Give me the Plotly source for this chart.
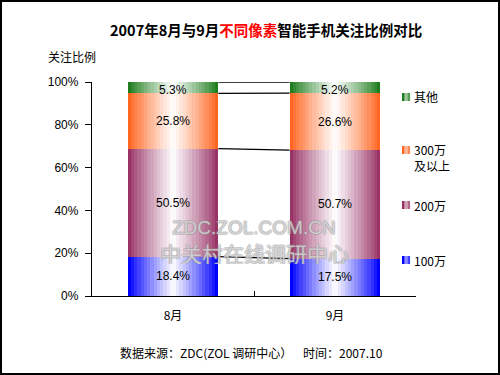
import plotly.graph_objects as go

categories = ["8月", "9月"]
series_names = ["100万", "200万", "300万<br>及以上", "其他"]
v100 = [18.4, 17.5]
v200 = [50.5, 50.7]
v300 = [25.8, 26.6]
v_other = [5.3, 5.2]
y_ticks = [0, 20, 40, 60, 80, 100]
y_ticklabels = ["0%", "20%", "40%", "60%", "80%", "100%"]

series = [v100, v200, v300, v_other]
colors = [(0, 0, 255), (153, 51, 102), (255, 102, 34), (30, 125, 30)]

FONT = "Liberation Sans, Arial, Noto Sans CJK SC"
CJK = "Noto Sans CJK SC, Liberation Sans"

W = 0.56
N = 14
xs = list(range(len(categories)))

def mix(c, t):
    return "rgb(%d,%d,%d)" % tuple(round(ci + (255 - ci) * t) for ci in c)

fig = go.Figure()

bases = [[0.0] * len(categories)]
for s in series:
    bases.append([b + v for b, v in zip(bases[-1], s)])

for i, s in enumerate(series):
    for k in range(N):
        t = (k / (N - 1)) ** 0.9 * 0.97
        fig.add_trace(go.Bar(
            x=xs, y=s, base=bases[i], width=W * (1 - k / N),
            marker=dict(color=mix(colors[i], t), line=dict(width=0)),
            showlegend=False, hoverinfo="skip"))

# connector lines
for lvl in bases[1:]:
    fig.add_trace(go.Scatter(x=[xs[0] + W / 2, xs[1] - W / 2], y=[lvl[0], lvl[1]],
                             mode="lines", line=dict(color="black", width=1.3),
                             showlegend=False, hoverinfo="skip"))

# value labels
for i, s in enumerate(series):
    for j, v in enumerate(s):
        ymid = bases[i][j] + v / 2
        fig.add_annotation(x=xs[j], y=ymid, text="%.1f%%" % v, showarrow=False,
                           xanchor="center", yanchor="middle",
                           font=dict(family=FONT, size=12, color="black"),
                           yshift=-2 if i == 3 else 0)

def px(x):
    return (x - 92) / 324

def py(y):
    return (296 - y) / 214

def note(x, y, text, size, family=CJK, xanchor="center", **kw):
    fig.add_annotation(x=px(x), y=py(y), xref="paper", yref="paper", text=text,
                       xanchor=xanchor, yanchor="middle", showarrow=False,
                       font=dict(family=family, size=size, color=kw.pop("color", "black"),
                                 **kw.pop("fontkw", {})), **kw)

# watermark
shadow = ("1px 0 0 rgba(140,140,140,0.8), -1px 0 0 rgba(140,140,140,0.8), "
          "0 1px 0 rgba(140,140,140,0.8), 0 -1px 0 rgba(140,140,140,0.8)")
note(254, 227, "ZDC.ZOL.COM.CN", 19, family=FONT, color="rgba(255,255,255,0.55)",
     fontkw=dict(shadow=shadow), height=18)
note(254, 253, "中关村在线调研中心", 21, color="rgba(255,255,255,0.55)",
     fontkw=dict(shadow=shadow), height=22)

# legend
legend_y = [260, 205, 157, 97]
for i, name in enumerate(series_names):
    yc = legend_y[i]
    ym = 150 if i == 2 else yc
    for k, t in enumerate([0.0, 0.55, 0.25]):
        fig.add_shape(type="rect", xref="paper", yref="paper",
                      x0=px(402 + k * 2.7), x1=px(402 + (k + 1) * 2.7),
                      y0=py(ym + 4), y1=py(ym - 4),
                      fillcolor=mix(colors[i], t), line=dict(width=0))
    note(412, yc, name, 12, xanchor="left", align="left")

# title etc
note(266, 30, "<b>2007年8月与9月<span style='color:red'>不同像素</span>智能手机关注比例对比</b>", 14.5)
note(46, 57, "关注比例", 12, xanchor="left")
note(118, 352, "数据来源：ZDC(ZOL 调研中心）&nbsp;&nbsp;&nbsp;&nbsp;时间：2007.10", 12, xanchor="left")

# outer border
fig.add_shape(type="rect", xref="paper", yref="paper",
              x0=px(1), x1=px(499), y0=py(374), y1=py(1),
              line=dict(color="black", width=2), fillcolor="rgba(0,0,0,0)")

fig.update_layout(
    width=500, height=375, barmode="overlay", bargap=0,
    margin=dict(l=92, r=84, t=82, b=79),
    paper_bgcolor="white", plot_bgcolor="white",
    showlegend=False,
    xaxis=dict(range=[-0.5, 1.5], tickvals=xs, ticktext=categories, ticks="",
               showline=True, linecolor="black", linewidth=1.3, showgrid=False, zeroline=False,
               tickfont=dict(family=CJK, size=12, color="black"), ticklabelstandoff=8,
               minor=dict(tickvals=[0.5], ticks="inside", ticklen=5, tickcolor="black", showgrid=False)),
    yaxis=dict(range=[0, 100], tickvals=y_ticks, ticktext=y_ticklabels, ticks="outside",
               ticklen=6, tickcolor="black", showline=True, linecolor="black", linewidth=1.3,
               showgrid=False, zeroline=False, tickfont=dict(family=FONT, size=12, color="black"),
               ticklabelstandoff=4),
)

fig.write_html("out.html", config={"displayModeBar": False},
               post_script="document.body.style.margin='0';document.body.style.overflow='hidden';")
